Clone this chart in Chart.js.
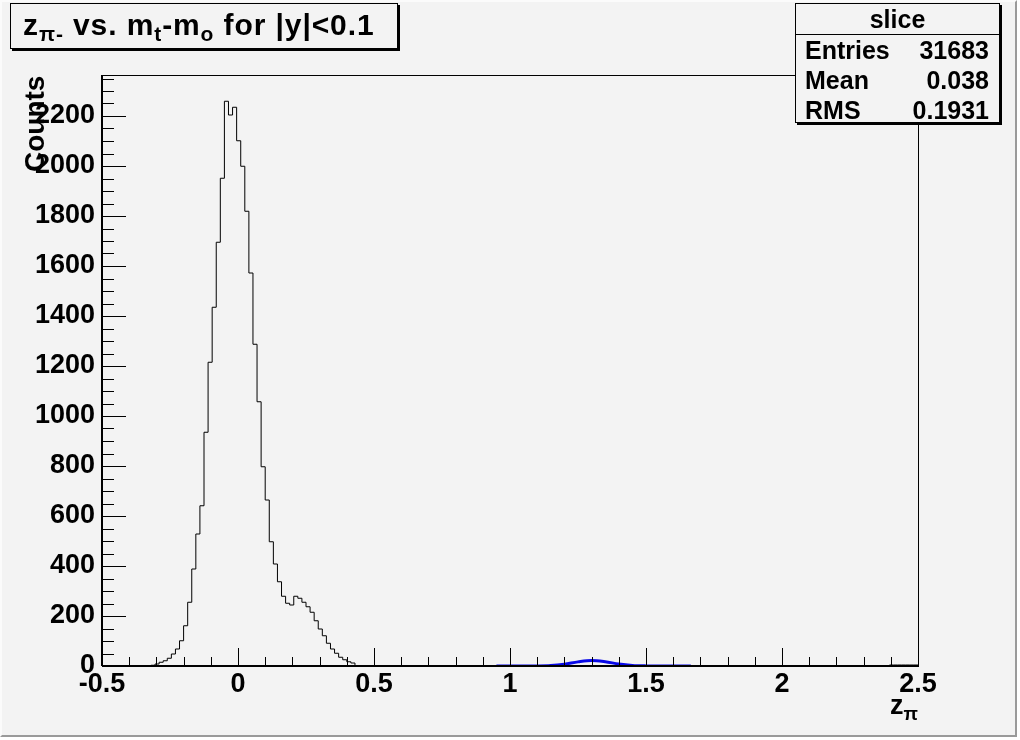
<!DOCTYPE html>
<html>
<head>
<meta charset="utf-8">
<script src="https://cdn.jsdelivr.net/npm/chart.js@4.4.1/dist/chart.umd.min.js"></script>
<style>
  body { margin: 0; background: #fff; font-family: 'Liberation Sans', Arial, sans-serif; }
  #pad {
    position: absolute; left: 0; top: 0; width: 1017px; height: 737px;
    box-sizing: border-box; background: #f3f3f3;
    border-left: 2px solid #fbfbfb; border-top: 2px solid #fbfbfb;
    border-right: 2px solid #9a9a9a; border-bottom: 2px solid #9a9a9a;
  }
  canvas { position: absolute; left: 0; top: 0; }
  .box {
    position: absolute; box-sizing: border-box; background: #f3f3f3;
    border: 1px solid #000; box-shadow: 2px 2px 0 #000; font-weight: bold; color: #000;
  }
  sub { font-size: 70%; vertical-align: -0.3em; line-height: 0; }
  #title { left: 10px; top: 3px; width: 388px; height: 46px; font-size: 30px; letter-spacing: 0.9px; line-height: 42px; padding-left: 12px; white-space: nowrap; }
  #stats { left: 795px; top: 3px; width: 205px; height: 120px; font-size: 25px; }
  #stats .hd { height: 30px; line-height: 30px; text-align: center; border-bottom: 1px solid #000; }
  #stats .row { height: 30px; line-height: 30px; display: flex; justify-content: space-between; padding: 0 10px 0 9px; }
  #ytitle {
    position: absolute; left: 20px; top: 172px; transform: rotate(-90deg); transform-origin: 0 0;
    font-size: 28px; font-weight: bold; line-height: 30px; white-space: nowrap;
  }
  #xtitle {
    position: absolute; left: 818px; top: 690px; width: 100px; text-align: right;
    font-size: 27px; font-weight: bold; line-height: 30px; white-space: nowrap;
  }
</style>
</head>
<body>
<div id="pad"></div>
<canvas id="hist" width="1017" height="737"></canvas>
<div id="title" class="box">z<sub>π-</sub> vs. m<sub>t</sub>-m<sub>o</sub> for |y|&lt;0.1</div>
<div id="stats" class="box"></div>
<div id="ytitle">Counts</div>
<div id="xtitle">z<sub>π</sub></div>
<script>
// histogram binning: 200 bins from -0.5 to 2.5
const xMin = -0.5;
const binWidth = 0.015;
const counts = [
  0, 0, 0, 0, 0, 0, 0, 0, 0, 0, 0, 0, 0, 3, 8, 15, 21, 31, 48, 68,
  101, 161, 255, 388, 528, 641, 935, 1215, 1435, 1695, 1951, 2259, 2204, 2235, 2101, 1999, 1819, 1572, 1287, 1057,
  797, 664, 497, 408, 337, 279, 251, 244, 279, 271, 255, 237, 215, 181, 148, 121, 91, 68, 51, 35,
  25, 17, 12, 0, 0, 0, 0, 0, 0, 0, 0, 0, 0, 0, 0, 0, 0, 0, 0, 0,
  0, 0, 0, 0, 0, 0, 0, 0, 0, 0, 0, 0, 0, 0, 0, 0, 0, 0, 0, 0,
  0, 0, 0, 0, 0, 0, 0, 0, 0, 0, 0, 0, 0, 0, 0, 0, 0, 0, 0, 0,
  0, 0, 0, 0, 0, 0, 0, 0, 0, 0, 0, 0, 0, 0, 0, 0, 0, 0, 0, 0,
  0, 0, 0, 0, 0, 0, 0, 0, 0, 0, 0, 0, 0, 0, 0, 0, 0, 0, 0, 0,
  0, 0, 0, 0, 0, 0, 0, 0, 0, 0, 0, 0, 0, 0, 0, 0, 0, 0, 0, 0,
  0, 0, 0, 0, 0, 0, 0, 0, 0, 0, 0, 0, 0, 0, 4, 4, 4, 4, 4, 4
];

// blue fit curve
const fitX = [0.95, 1.0, 1.05, 1.1, 1.15, 1.2, 1.25, 1.3, 1.35, 1.4, 1.45, 1.5, 1.55, 1.6, 1.665];
const fitY = [0, 0, 0, 0.3, 2, 7.5, 16.5, 22, 17, 8, 2.5, 0.5, 0, 0, 0];

const xTicks = [-0.5, 0, 0.5, 1, 1.5, 2, 2.5];
const yTicks = [0, 200, 400, 600, 800, 1000, 1200, 1400, 1600, 1800, 2000, 2200];
const yMax = 2364;

const statLabels = ['Entries', 'Mean', 'RMS'];
const statValues = ['31683', '0.038', '0.1931'];

document.getElementById('stats').innerHTML =
  '<div class="hd">slice</div>' +
  statLabels.map((l, i) => '<div class="row"><span>' + l + '</span><span>' + statValues[i] + '</span></div>').join('');

const histPoints = counts.map((c, i) => ({ x: xMin + i * binWidth, y: c }));
histPoints.push({ x: xMin + counts.length * binWidth, y: counts[counts.length - 1] });
const fitPoints = fitX.map((x, i) => ({ x: x, y: fitY[i] }));

// ROOT style frame with inward ticks
const rootAxes = {
  id: 'rootAxes',
  afterDatasetsDraw(chart) {
    const { ctx, chartArea: a, scales: { x, y } } = chart;
    ctx.save();
    ctx.strokeStyle = '#000';
    ctx.lineWidth = 1;
    ctx.beginPath();
    for (let i = 0; i <= 30; i++) {
      const px = Math.round(x.getPixelForValue(xMin + i * 0.1)) + 0.5;
      const len = i % 5 === 0 ? 18 : 9;
      ctx.moveTo(px, a.bottom);
      ctx.lineTo(px, a.bottom - len);
    }
    for (let v = 0; v <= yMax; v += 50) {
      const py = Math.round(y.getPixelForValue(v)) + 0.5;
      const len = v % 200 === 0 ? 24 : 12;
      ctx.moveTo(a.left, py);
      ctx.lineTo(a.left + len, py);
    }
    ctx.stroke();
    ctx.strokeRect(Math.round(a.left) + 0.5, Math.round(a.top) + 0.5, Math.round(a.right - a.left), Math.round(a.bottom - a.top));
    ctx.lineWidth = 2;
    ctx.beginPath();
    ctx.moveTo(a.left, a.bottom);
    ctx.lineTo(a.right, a.bottom);
    ctx.moveTo(a.left, a.top);
    ctx.lineTo(a.left, a.bottom);
    ctx.stroke();
    ctx.restore();
  }
};

const tickFont = { family: 'Liberation Sans', size: 27, weight: 'bold' };

new Chart(document.getElementById('hist'), {
  type: 'line',
  data: {
    datasets: [
      {
        data: fitPoints,
        borderColor: '#0808e8',
        borderWidth: 3,
        pointRadius: 0,
        cubicInterpolationMode: 'monotone'
      },
      {
        data: histPoints,
        borderColor: '#000',
        borderWidth: 1,
        pointRadius: 0,
        stepped: 'after'
      }
    ]
  },
  options: {
    responsive: false,
    animation: false,
    layout: { padding: { left: 0, top: 75, right: 99, bottom: 31 } },
    plugins: { legend: { display: false }, tooltip: { enabled: false } },
    scales: {
      x: {
        type: 'linear',
        min: -0.5,
        max: 2.5,
        grid: { display: false, drawTicks: false },
        border: { display: false },
        afterBuildTicks: s => { s.ticks = xTicks.map(v => ({ value: v })); },
        afterFit: s => { s.height = 40; },
        ticks: {
          color: '#000', font: tickFont, padding: 2, maxRotation: 0, autoSkip: false,
          callback: v => String(v)
        }
      },
      y: {
        min: 0,
        max: yMax,
        grid: { display: false, drawTicks: false },
        border: { display: false },
        afterBuildTicks: s => { s.ticks = yTicks.map(v => ({ value: v })); },
        afterFit: s => { s.width = 102; },
        ticks: {
          color: '#000', font: tickFont, padding: 7,
          callback: v => String(v)
        }
      }
    }
  },
  plugins: [rootAxes]
});
</script>
</body>
</html>
